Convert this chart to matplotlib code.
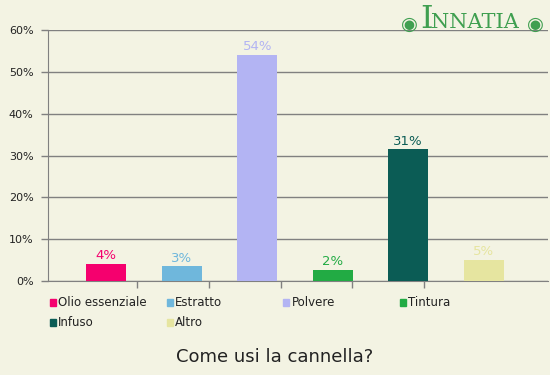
import matplotlib.pyplot as plt
import matplotlib.patches as mpatches
import numpy as np

# Data
categories = ['Olio essenziale', 'Estratto', 'Polvere', 'Tintura', 'Infuso', 'Altro']
values = [4.1, 3.5, 54.0, 2.6, 31.5, 5.0]
labels = ['4%', '3%', '54%', '2%', '31%', '5%']
colors = ['#f5006e', '#6fb7dc', '#b3b4f3', '#22ab44', '#0b5c55', '#e6e5a0']
yticks = [0, 10, 20, 30, 40, 50, 60]

bg = '#f3f3e3'
fig = plt.figure(figsize=(5.5, 3.75), dpi=100, facecolor=bg)
ax = fig.add_axes([48 / 550, 1 - 281 / 375, 500 / 550, 251 / 375], facecolor=bg)

x = np.arange(len(categories))
ax.bar(x, values, width=0.53, color=colors, zorder=3)
for xi, v, lab, c in zip(x, values, labels, colors):
    ax.text(xi, v + 0.4, lab, ha='center', va='bottom', color=c, fontsize=9.5)

ax.set_xlim(-0.77, 5.85)
ax.set_ylim(0, 60)
ax.set_yticks(yticks)
ax.set_yticklabels([f'{t}%' for t in yticks], fontsize=8, color='#222222')
ax.yaxis.grid(True, color='#808080', linewidth=1, zorder=0)
ax.set_xticks([0.41, 1.36, 2.31, 3.26, 4.21])
ax.set_xticklabels([])
ax.tick_params(axis='both', length=5, color='#808080', width=1)
ax.tick_params(axis='y', pad=5.5)
for s in ['top', 'right']:
    ax.spines[s].set_visible(False)
for s in ['left', 'bottom']:
    ax.spines[s].set_color('#808080')

# legend laid out as a fixed grid
for i, (name, c) in enumerate(zip(categories, colors)):
    col, row = i % 4, i // 4
    px = 50 + col * 116.7
    py = 302 + row * 20
    fig.patches.append(mpatches.Rectangle((px / 550, 1 - (py + 3.5) / 375), 6 / 550, 7 / 375,
                                          transform=fig.transFigure, color=c))
    fig.text((px + 8) / 550, 1 - py / 375, name, fontsize=8.5, va='center', color='#222222')

fig.text(0.5, 1 - 357 / 375, 'Come usi la cannella?', ha='center', va='center',
         fontsize=13, color='#222222')

# logo
green = '#3f9f50'
fig.text(420 / 550, 1 - 20 / 375, 'I', ha='left', va='center', fontsize=23,
         family='DejaVu Serif', color=green)
fig.text(431 / 550, 1 - 23 / 375, 'NNATIA', ha='left', va='center', fontsize=15,
         family='DejaVu Serif', color=green)
fig.text(409 / 550, 1 - 24 / 375, '◉', ha='center', va='center', fontsize=14, color=green)
fig.text(535 / 550, 1 - 24 / 375, '◉', ha='center', va='center', fontsize=14, color=green)

fig.savefig('out.png', dpi=100, facecolor=bg)
